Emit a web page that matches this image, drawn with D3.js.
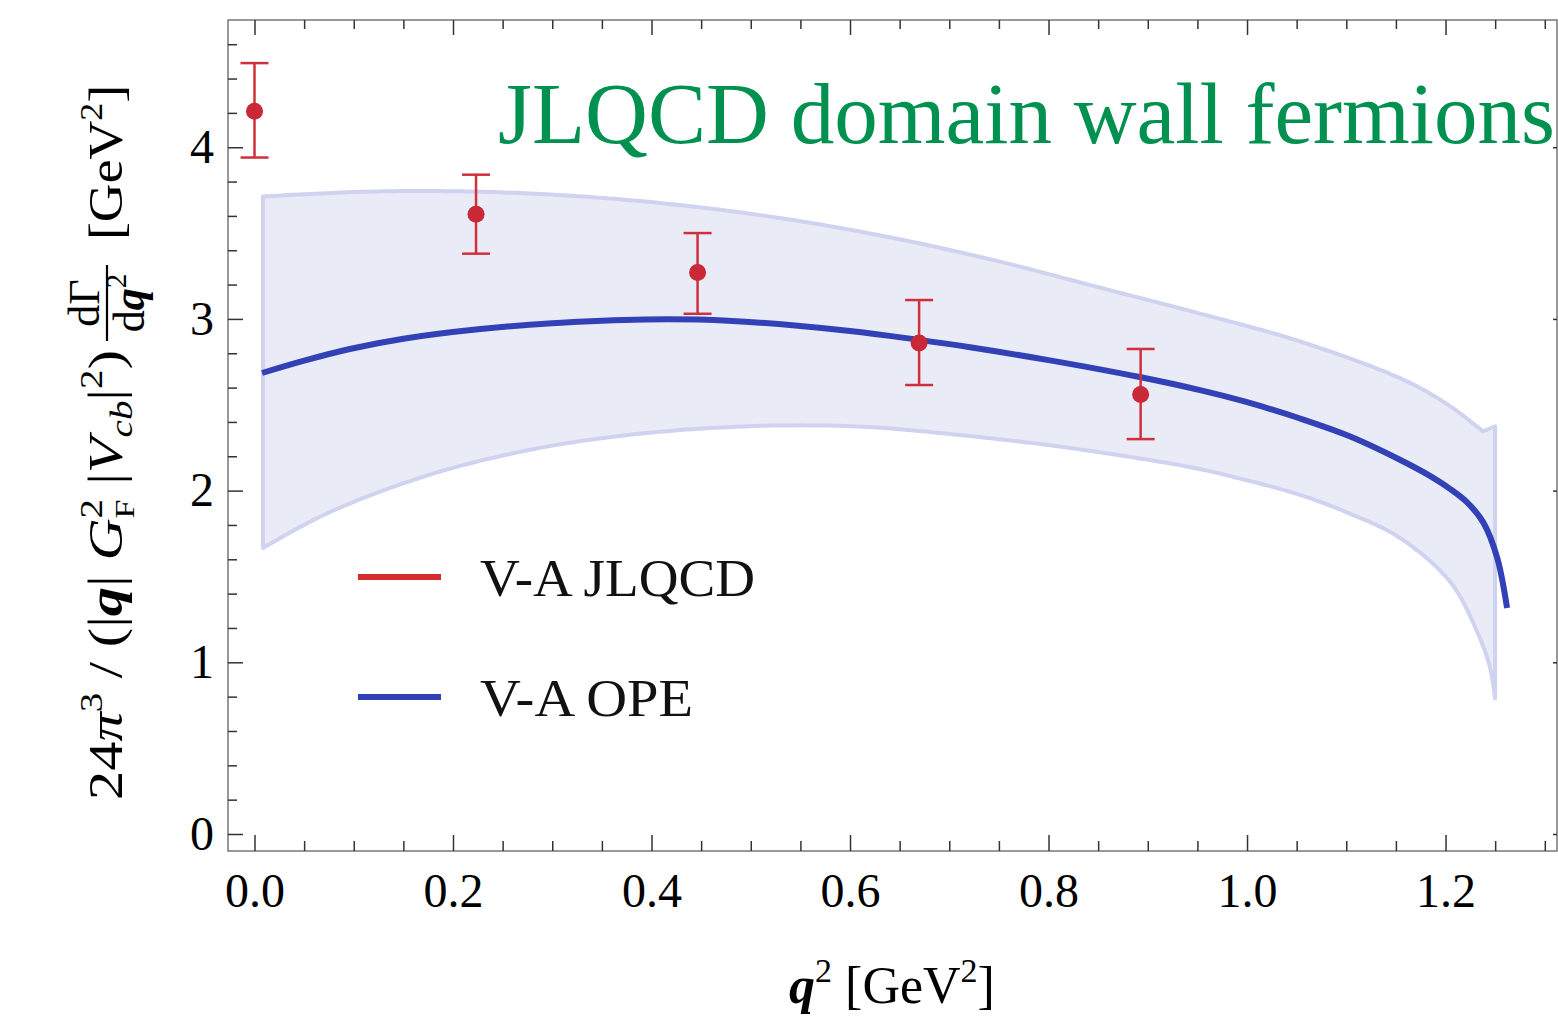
<!DOCTYPE html>
<html>
<head>
<meta charset="utf-8">
<script src="https://cdn.jsdelivr.net/npm/d3@7"></script>
<style>
  body { margin: 0; background: #fff; }
  text { font-family: "Liberation Serif", "DejaVu Serif", serif; }
</style>
</head>
<body>
<svg></svg>
<script>
var svgWidth = 1558;
var svgHeight = 1016;

// JLQCD lattice points
var latQ2 = [0.0, 0.2232, 0.4464, 0.6696, 0.8928];
var latVal = [4.21, 3.61, 3.27, 2.86, 2.56];
var latLo = [3.94, 3.38, 3.03, 2.615, 2.30];
var latHi = [4.49, 3.84, 3.50, 3.11, 2.825];

// OPE central curve
var opeQ2 = [0.0076, 0.05, 0.096, 0.15, 0.2252, 0.3, 0.393, 0.477, 0.6, 0.6695, 0.7209, 0.8, 0.893, 0.9526, 1.0, 1.0534, 1.104, 1.154, 1.18, 1.2045, 1.222, 1.238, 1.252, 1.262];
var opeVal = [2.685, 2.757, 2.825, 2.885, 2.94, 2.975, 2.997, 2.99, 2.93, 2.878, 2.835, 2.76, 2.66, 2.585, 2.515, 2.42, 2.315, 2.18, 2.10, 2.01, 1.93, 1.815, 1.61, 1.316];

// OPE error band
var bandUpQ2 = [0.0086, 0.1, 0.17, 0.25, 0.35, 0.45, 0.55, 0.65, 0.75, 0.85, 0.95, 1.05, 1.154, 1.2, 1.2378, 1.2499];
var bandUpVal = [3.713, 3.739, 3.745, 3.737, 3.705, 3.649, 3.569, 3.464, 3.335, 3.185, 3.035, 2.875, 2.655, 2.51, 2.345, 2.375];
var bandLoQ2 = [0.0086, 0.074, 0.175, 0.276, 0.376, 0.477, 0.55, 0.62, 0.7, 0.8, 0.9, 0.9526, 1.0, 1.0534, 1.104, 1.154, 1.2045, 1.231, 1.2448, 1.2499];
var bandLoVal = [1.666, 1.87, 2.09, 2.236, 2.324, 2.37, 2.38, 2.37, 2.33, 2.265, 2.18, 2.125, 2.06, 1.975, 1.865, 1.725, 1.47, 1.19, 0.97, 0.79];

var xMajor = [0.0, 0.2, 0.4, 0.6, 0.8, 1.0, 1.2];
var yMajor = [0, 1, 2, 3, 4];

var legendNames = ["V-A JLQCD", "V-A OPE"];
var legendColors = ["#d42d30", "#3341b6"];

var plotL = 228, plotR = 1557, plotT = 20, plotB = 851;

var x = d3.scaleLinear().domain([-0.0267, 1.3123]).range([plotL, plotR]);
var y = d3.scaleLinear().domain([-0.099, 4.741]).range([plotB, plotT]);

var svg = d3.select('svg')
    .attr("width", svgWidth)
    .attr("height", svgHeight);

// band: upper curve (smooth), kink point, vertical edge, lower curve back
var smooth = d3.line()
    .x(function(d) { return x(d[0]); })
    .y(function(d) { return y(d[1]); })
    .curve(d3.curveCatmullRom.alpha(0.5));
var upPts = bandUpQ2.slice(0, -1).map(function(d, i) { return [d, bandUpVal[i]]; });
var loPts = bandLoQ2.map(function(d, i) { return [d, bandLoVal[i]]; });

function sample(pts, n) {
    var p = svg.append("path").attr("d", smooth(pts)).attr("fill", "none");
    var L = p.node().getTotalLength(), out = [];
    for (var i = 0; i <= n; i++) {
        var pt = p.node().getPointAtLength(L * i / n);
        out.push([pt.x, pt.y]);
    }
    p.remove();
    return out;
}
var upS = sample(upPts, 240);
var loS = sample(loPts, 240).reverse();
var kink = [x(bandUpQ2[bandUpQ2.length - 1]), y(bandUpVal[bandUpVal.length - 1])];
var poly = upS.concat([kink]).concat(loS);

svg.append("path")
    .attr("d", "M" + poly.map(function(p) { return p[0].toFixed(2) + "," + p[1].toFixed(2); }).join("L") + "Z")
    .attr("fill", "#e9ebf7")
    .attr("stroke", "#d0d3ef")
    .attr("stroke-width", 4)
    .attr("stroke-linejoin", "round");

// OPE line
var opeLine = d3.line()
    .x(function(d, i) { return x(opeQ2[i]); })
    .y(function(d) { return y(d); })
    .curve(d3.curveCatmullRom.alpha(0.5));
svg.append("path")
    .attr("d", opeLine(opeVal))
    .attr("fill", "none")
    .attr("stroke", legendColors[1])
    .attr("stroke-width", 6);

// error bars
var errG = svg.append("g").attr("stroke", "#d0303b").attr("stroke-width", 2.5);
latQ2.forEach(function(q, i) {
    errG.append("line").attr("x1", x(q)).attr("x2", x(q)).attr("y1", y(latLo[i])).attr("y2", y(latHi[i]));
    errG.append("line").attr("x1", x(q) - 14).attr("x2", x(q) + 14).attr("y1", y(latLo[i])).attr("y2", y(latLo[i]));
    errG.append("line").attr("x1", x(q) - 14).attr("x2", x(q) + 14).attr("y1", y(latHi[i])).attr("y2", y(latHi[i]));
});
svg.selectAll("circle.pt")
    .data(latVal)
    .enter()
    .append("circle")
    .attr("class", "pt")
    .attr("cx", function(d, i) { return x(latQ2[i]); })
    .attr("cy", function(d) { return y(d); })
    .attr("r", 8.5)
    .attr("fill", "#c92836");

// frame
svg.append("rect")
    .attr("x", plotL).attr("y", plotT)
    .attr("width", plotR - plotL).attr("height", plotB - plotT)
    .attr("fill", "none").attr("stroke", "#777").attr("stroke-width", 1.5);

// minor ticks
var xMinor = d3.range(0, 1.3001, 0.05).filter(function(v) { return Math.abs(v * 5 - Math.round(v * 5)) > 1e-6; });
var yMinor = d3.range(0, 4.7001, 0.2).filter(function(v) { return Math.abs(v - Math.round(v)) > 1e-6; });

function styleAxis(g) {
    g.select(".domain").remove();
    g.selectAll(".tick line").attr("stroke", "#333").attr("stroke-width", 1.5);
    g.selectAll("text").attr("font-family", "Liberation Serif").attr("font-size", 48).attr("fill", "#000");
}

svg.append("g").attr("transform", "translate(0," + plotB + ")")
    .call(d3.axisBottom(x).tickValues(xMajor).tickSize(-16).tickPadding(22).tickFormat(d3.format(".1f")))
    .call(styleAxis);
svg.append("g").attr("transform", "translate(0," + plotB + ")")
    .call(d3.axisBottom(x).tickValues(xMinor).tickSize(-10).tickFormat(""))
    .call(styleAxis);
svg.append("g").attr("transform", "translate(0," + plotT + ")")
    .call(d3.axisTop(x).tickValues(xMajor).tickSize(-15).tickFormat(""))
    .call(styleAxis);
svg.append("g").attr("transform", "translate(0," + plotT + ")")
    .call(d3.axisTop(x).tickValues(xMinor).tickSize(-9).tickFormat(""))
    .call(styleAxis);
svg.append("g").attr("transform", "translate(" + plotL + ",0)")
    .call(d3.axisLeft(y).tickValues(yMajor).tickSize(-15).tickPadding(14).tickFormat(d3.format("d")))
    .call(styleAxis);
svg.append("g").attr("transform", "translate(" + plotL + ",0)")
    .call(d3.axisLeft(y).tickValues(yMinor).tickSize(-9).tickFormat(""))
    .call(styleAxis);
svg.append("g").attr("transform", "translate(" + plotR + ",0)")
    .call(d3.axisRight(y).tickValues(yMajor).tickSize(-4).tickFormat(""))
    .call(styleAxis);

// title
svg.append("text")
    .attr("x", 498).attr("y", 143)
    .attr("font-size", 86)
    .attr("fill", "#009150")
    .attr("textLength", 1057)
    .attr("lengthAdjust", "spacingAndGlyphs")
    .text("JLQCD domain wall fermions");

// legend
var legendWidths = [275, 213];
legendNames.forEach(function(name, i) {
    var ly = 577 + i * 120;
    svg.append("line").attr("x1", 358).attr("x2", 441).attr("y1", ly).attr("y2", ly)
        .attr("stroke", legendColors[i]).attr("stroke-width", 6);
    svg.append("text").attr("x", 480).attr("y", ly + 19)
        .attr("font-size", 52).attr("fill", "#111")
        .attr("textLength", legendWidths[i]).attr("lengthAdjust", "spacingAndGlyphs")
        .text(name);
});

// x label
var xl = svg.append("text").attr("x", 892).attr("y", 1003).attr("text-anchor", "middle").attr("font-size", 52);
xl.append("tspan").attr("font-weight", "bold").attr("font-style", "italic").text("q");
xl.append("tspan").attr("font-size", 34).attr("dy", -21).text("2");
xl.append("tspan").attr("dy", 21).text(" [GeV");
xl.append("tspan").attr("font-size", 34).attr("dy", -21).text("2");
xl.append("tspan").attr("dy", 21).text("]");

// y label (rotated)
var yg = svg.append("g").attr("transform", "rotate(-90)");
var yl = yg.append("text").attr("x", -800).attr("y", 122).attr("font-size", 48)
    .attr("textLength", 450).attr("lengthAdjust", "spacingAndGlyphs");
yl.append("tspan").text("24");
yl.append("tspan").attr("font-style", "italic").text("π");
yl.append("tspan").attr("font-size", 32).attr("dy", -20).text("3");
yl.append("tspan").attr("dy", 20).text(" / (|");
yl.append("tspan").attr("font-weight", "bold").attr("font-style", "italic").text("q");
yl.append("tspan").text("| ");
yl.append("tspan").attr("font-style", "italic").text("G");
yl.append("tspan").attr("font-size", 32).attr("dy", -20).text("2");
yl.append("tspan").attr("font-size", 28).attr("dx", -16).attr("dy", 32).text("F");
yl.append("tspan").attr("dy", -12).text(" |");
yl.append("tspan").attr("font-style", "italic").text("V");
yl.append("tspan").attr("font-style", "italic").attr("font-size", 32).attr("dy", 10).text("cb");
yl.append("tspan").attr("dy", -10).text("|");
yl.append("tspan").attr("font-size", 32).attr("dy", -20).text("2");
yl.append("tspan").attr("dy", 20).text(")");

var fracU = -303;
yg.append("text").attr("x", fracU).attr("y", 99).attr("text-anchor", "middle").attr("font-size", 44).text("dΓ");
yg.append("line").attr("x1", fracU - 38).attr("x2", fracU + 38).attr("y1", 107).attr("y2", 107)
    .attr("stroke", "#000").attr("stroke-width", 2.2);
var den = yg.append("text").attr("x", fracU).attr("y", 144).attr("text-anchor", "middle").attr("font-size", 44);
den.append("tspan").text("d");
den.append("tspan").attr("font-weight", "bold").attr("font-style", "italic").text("q");
den.append("tspan").attr("font-size", 29).attr("dy", -18).text("2");

var unit = yg.append("text").attr("x", -85).attr("y", 122).attr("text-anchor", "end").attr("font-size", 48)
    .attr("textLength", 155).attr("lengthAdjust", "spacingAndGlyphs");
unit.append("tspan").text("[GeV");
unit.append("tspan").attr("font-size", 32).attr("dy", -20).text("2");
unit.append("tspan").attr("dy", 20).text("]");
</script>
</body>
</html>
